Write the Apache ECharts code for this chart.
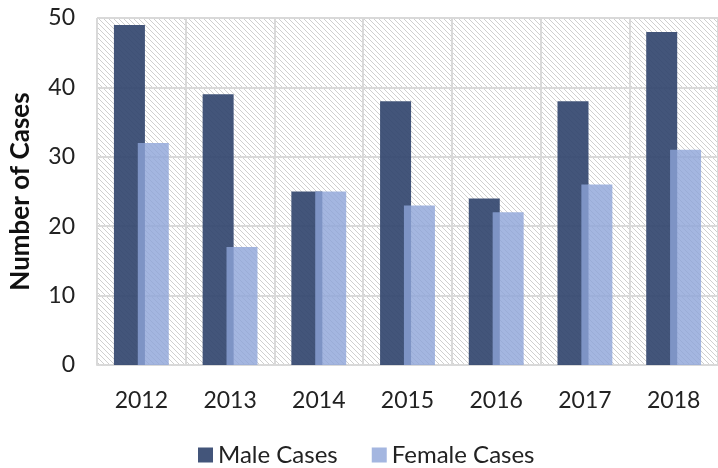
<!DOCTYPE html>
<html>
<head>
<meta charset="utf-8">
<script src="https://cdn.jsdelivr.net/npm/echarts@6/dist/echarts.min.js"></script>
<style>
  html, body { margin: 0; padding: 0; background: #fff; }
  #chart { width: 718px; height: 468px; }
</style>
</head>
<body>
<div id="chart"></div>
<script>
// 数据
const years = ["2012", "2013", "2014", "2015", "2016", "2017", "2018"];
const maleCases = [49, 39, 25, 38, 24, 38, 48];
const femaleCases = [32, 17, 25, 23, 22, 26, 31];

// 斜线底纹
const makeHatch = () => {
  const c = document.createElement("canvas");
  c.width = 5;
  c.height = 5;
  const ctx = c.getContext("2d");
  ctx.fillStyle = "#ffffff";
  ctx.fillRect(0, 0, 5, 5);
  ctx.strokeStyle = "#cfcfcf";
  ctx.lineWidth = 1;
  ctx.beginPath();
  ctx.moveTo(-1, -1);
  ctx.lineTo(6, 6);
  ctx.moveTo(-1, 4);
  ctx.lineTo(1, 6);
  ctx.moveTo(4, -1);
  ctx.lineTo(6, 1);
  ctx.stroke();
  return { image: c, repeat: "repeat" };
};

const myChart = echarts.init(document.getElementById("chart"));
const font = "Lato, 'Open Sans', sans-serif";

const option = {
  animation: false,
  textStyle: { fontFamily: font },
  grid: {
    left: 93,
    right: -5,
    top: 18,
    bottom: 103,
    show: true,
    borderWidth: 0,
    backgroundColor: makeHatch(),
  },
  legend: {
    bottom: -4,
    left: 193,
    itemWidth: 15,
    itemHeight: 15,
    itemGap: 34,
    icon: "rect",
    textStyle: { fontSize: 24, color: "#222", fontFamily: font },
    data: ["Male Cases", "Female Cases"],
  },
  xAxis: {
    type: "category",
    data: years,
    axisLine: { lineStyle: { color: "#d9d9d9", width: 2 } },
    axisTick: { show: false },
    splitLine: { show: true, lineStyle: { color: "#d9d9d9", width: 2 } },
    axisLabel: { fontSize: 23, color: "#222", margin: 24, fontFamily: font },
  },
  yAxis: {
    type: "value",
    min: 0,
    max: 50,
    interval: 10,
    name: "Number of Cases",
    nameLocation: "middle",
    nameGap: 63,
    nameTextStyle: { fontSize: 26, fontWeight: "bold", color: "#111", fontFamily: font },
    axisLine: { show: false },
    axisTick: { show: false },
    splitLine: { lineStyle: { color: "#d9d9d9", width: 2 } },
    axisLabel: { fontSize: 23, color: "#222", margin: 22, fontFamily: font },
  },
  series: [
    {
      name: "Male Cases",
      type: "bar",
      data: maleCases,
      barWidth: 31,
      barGap: "-23%",
      itemStyle: { color: "rgba(47,66,107,0.9)" },
    },
    {
      name: "Female Cases",
      type: "bar",
      data: femaleCases,
      barWidth: 31,
      itemStyle: { color: "rgba(141,164,216,0.8)" },
    },
  ],
};

myChart.setOption(option);
window.addEventListener("resize", function () {
  myChart.resize();
});
</script>
</body>
</html>
